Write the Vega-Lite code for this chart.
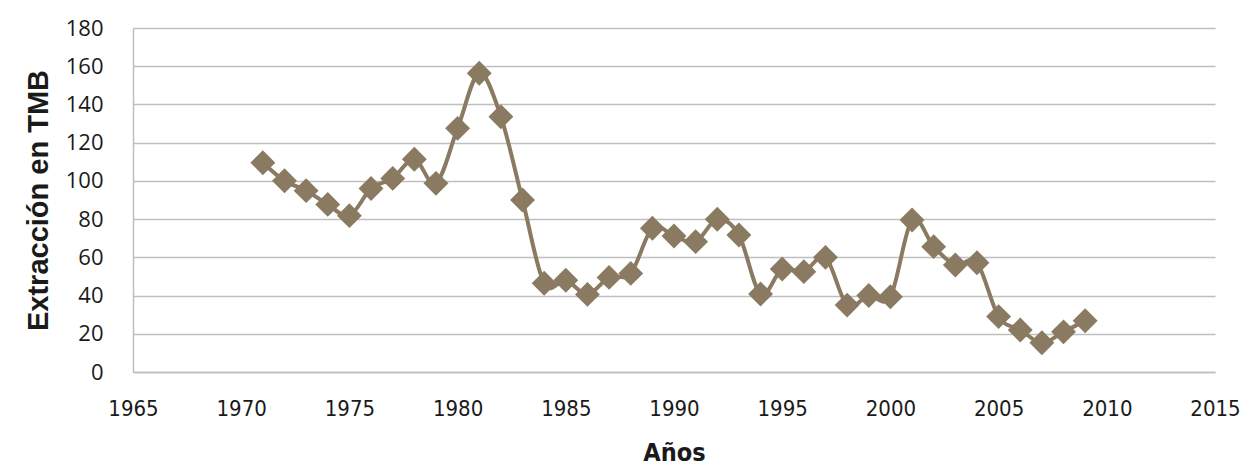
{
  "$schema": "https://vega.github.io/schema/vega-lite/v6.json",
  "autosize": {"type": "none"},
  "width": 1082,
  "height": 344,
  "padding": {"left": 133, "top": 28, "right": 34, "bottom": 94},
  "background": "white",
  "config": {"view": {"stroke": null}},
  "data": {"values": [
    {"year": 1971, "value": 109.5},
    {"year": 1972, "value": 100.1},
    {"year": 1973, "value": 94.9},
    {"year": 1974, "value": 87.7},
    {"year": 1975, "value": 81.8},
    {"year": 1976, "value": 96},
    {"year": 1977, "value": 101.3},
    {"year": 1978, "value": 111.3},
    {"year": 1979, "value": 98.7},
    {"year": 1980, "value": 127.5},
    {"year": 1981, "value": 156.3},
    {"year": 1982, "value": 133.6},
    {"year": 1983, "value": 90},
    {"year": 1984, "value": 46.4},
    {"year": 1985, "value": 48},
    {"year": 1986, "value": 40.6},
    {"year": 1987, "value": 49.5},
    {"year": 1988, "value": 51.6},
    {"year": 1989, "value": 75.2},
    {"year": 1990, "value": 71.2},
    {"year": 1991, "value": 68.2},
    {"year": 1992, "value": 79.9},
    {"year": 1993, "value": 71.7},
    {"year": 1994, "value": 40.8},
    {"year": 1995, "value": 53.9},
    {"year": 1996, "value": 52.5},
    {"year": 1997, "value": 60},
    {"year": 1998, "value": 35},
    {"year": 1999, "value": 40},
    {"year": 2000, "value": 39.4},
    {"year": 2001, "value": 79.5},
    {"year": 2002, "value": 65.6},
    {"year": 2003, "value": 56},
    {"year": 2004, "value": 57.2},
    {"year": 2005, "value": 29},
    {"year": 2006, "value": 22},
    {"year": 2007, "value": 15.3},
    {"year": 2008, "value": 21},
    {"year": 2009, "value": 26.8}
  ]},
  "encoding": {
    "x": {
      "field": "year", "type": "quantitative",
      "scale": {"domain": [1965, 2015], "nice": false, "zero": false},
      "axis": {
        "title": "Años",
        "values": [1965, 1970, 1975, 1980, 1985, 1990, 1995, 2000, 2005, 2010, 2015],
        "format": "d",
        "grid": false,
        "ticks": false,
        "domain": true,
        "domainColor": "#BFBFBF",
        "domainWidth": 1.5,
        "labelFont": "DejaVu Sans Condensed, Open Sans, sans-serif",
        "labelFontSize": 22,
        "labelColor": "#1a1a1a",
        "labelPadding": 26,
        "labelFlush": false,
        "titleFont": "DejaVu Sans Condensed, Liberation Sans, sans-serif",
        "titleFontSize": 25,
        "titleFontWeight": "bold",
        "titleColor": "#1a1a1a",
        "titlePadding": 21
      }
    },
    "y": {
      "field": "value", "type": "quantitative",
      "scale": {"domain": [0, 180], "nice": false},
      "axis": {
        "title": "Extracción en TMB",
        "values": [0, 20, 40, 60, 80, 100, 120, 140, 160, 180],
        "grid": true,
        "gridColor": "#BFBFBF",
        "gridWidth": 1.5,
        "ticks": false,
        "domain": true,
        "domainColor": "#BFBFBF",
        "domainWidth": 1.5,
        "labelFont": "Open Sans",
        "labelFontSize": 22,
        "labelColor": "#1a1a1a",
        "labelPadding": 30,
        "titleFont": "Liberation Sans",
        "titleFontSize": 29,
        "titleFontWeight": "bold",
        "titleColor": "#1a1a1a",
        "titlePadding": 12
      }
    }
  },
  "layer": [
    {"mark": {"type": "line", "color": "#8B7A62", "strokeWidth": 4, "interpolate": "cardinal"}},
    {"mark": {"type": "point", "shape": "diamond", "filled": true, "color": "#8B7A62", "opacity": 1, "size": 620}}
  ]
}
